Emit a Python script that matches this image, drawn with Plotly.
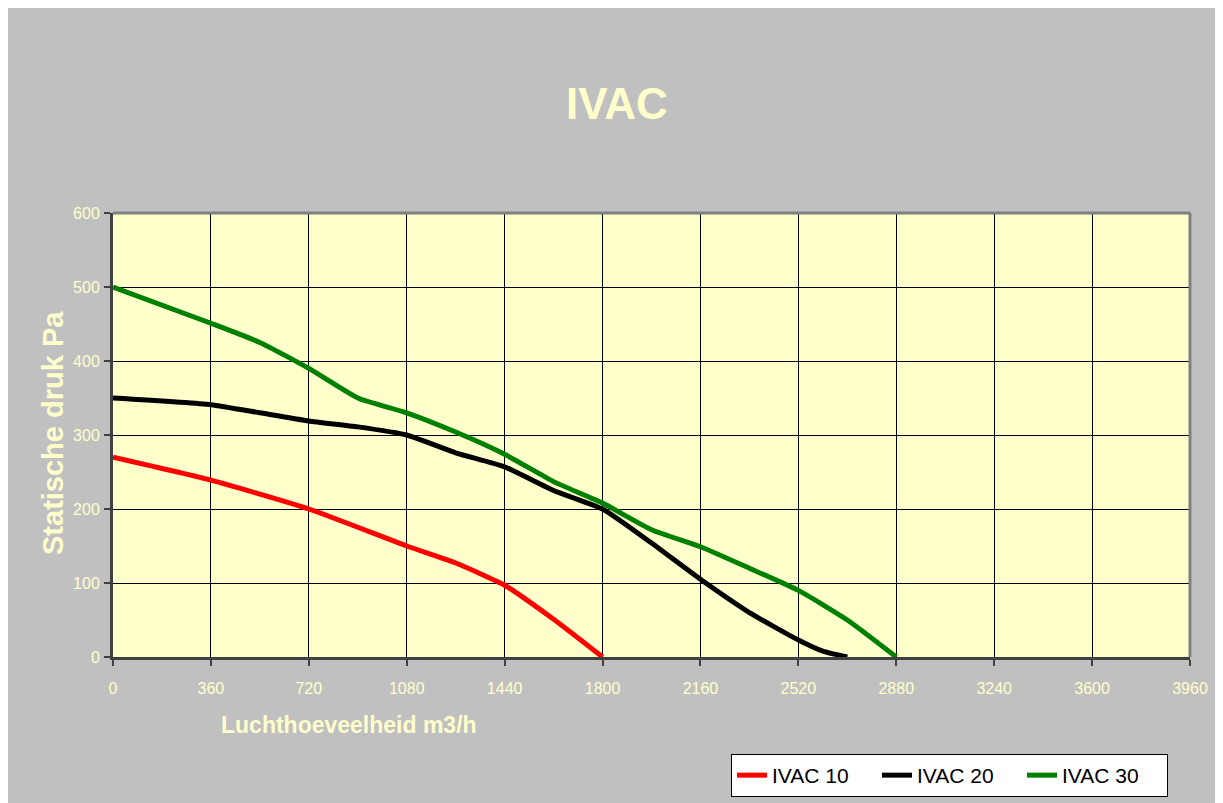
import plotly.graph_objects as go

# ---- data ----
red_x = [0, 360, 720, 1080, 1260, 1440, 1620, 1800]
red_y = [270, 239, 200, 150, 127, 97, 51, 0]

black_x = [0, 360, 540, 720, 900, 1080, 1260, 1440, 1620, 1800, 1980, 2160, 2340, 2520, 2610, 2700]
black_y = [350, 341, 330, 319, 311, 300, 276, 257, 225, 200, 154, 105, 60, 23, 8, 0]

green_x = [0, 360, 540, 720, 900, 1080, 1260, 1440, 1620, 1800, 1980, 2160, 2340, 2520, 2700, 2880]
green_y = [500, 451, 425, 390, 350, 330, 304, 274, 237, 208, 172, 149, 120, 90, 50, 0]

series_names = ["IVAC 10", "IVAC 20", "IVAC 30"]
series_colors = ["#FF0000", "#000000", "#008000"]

x_ticks = [0, 360, 720, 1080, 1440, 1800, 2160, 2520, 2880, 3240, 3600, 3960]
y_ticks = [0, 100, 200, 300, 400, 500, 600]

title_text = "IVAC"
x_title = "Luchthoeveelheid m3/h"
y_title = "Statische druk Pa"

FONT = "Liberation Sans, Arial, sans-serif"
PALE = "#FFFFCC"

fig = go.Figure()
for xs, ys, name, col in zip([red_x, black_x, green_x], [red_y, black_y, green_y],
                             series_names, series_colors):
    fig.add_trace(go.Scatter(x=xs, y=ys, name=name, mode="lines",
                             line=dict(color=col, width=5, shape="spline", smoothing=0.5)))

W, H = 1215, 795
ml, mr, mt, mb = 105, 33, 205, 146
pw = W - ml - mr
ph = H - mt - mb

fig.update_layout(
    width=W, height=H,
    margin=dict(l=ml, r=mr, t=mt, b=mb, pad=0, autoexpand=False),
    paper_bgcolor="#C0C0C0",
    plot_bgcolor=PALE,
    font=dict(family=FONT, color=PALE),
    showlegend=True,
    legend=dict(
        orientation="h",
        xref="container", yref="container",
        x=(723) / W, xanchor="left",
        y=1 - 746 / H, yanchor="top",
        bgcolor="white", bordercolor="black", borderwidth=1,
        font=dict(family=FONT, size=21, color="black"),
        entrywidth=100, entrywidthmode="pixels",
        itemwidth=30, tracegroupgap=0,
    ),
    xaxis=dict(
        range=[0, 3960], tickvals=x_ticks, ticktext=[str(v) for v in x_ticks],
        showgrid=True, gridcolor="black", gridwidth=1,
        showline=True, linecolor="#404040", linewidth=3,
        ticks="outside", ticklen=6, tickcolor="#404040", tickwidth=2,
        tickfont=dict(family=FONT, size=16, color=PALE),
        ticklabelstandoff=9, zeroline=False, fixedrange=True,
    ),
    yaxis=dict(
        range=[0, 600], tickvals=y_ticks,
        showgrid=True, gridcolor="black", gridwidth=1,
        showline=True, linecolor="#404040", linewidth=3,
        ticks="outside", ticklen=6, tickcolor="#404040", tickwidth=2,
        tickfont=dict(family=FONT, size=16, color=PALE),
        ticklabelstandoff=1, zeroline=False, fixedrange=True,
    ),
)

# top/right plot border
fig.add_shape(type="line", xref="paper", yref="paper", x0=0, x1=1, y0=1, y1=1,
              line=dict(color="#808080", width=3))
fig.add_shape(type="line", xref="paper", yref="paper", x0=1, x1=1, y0=0, y1=1,
              line=dict(color="#808080", width=3))

# title
fig.add_annotation(text="<b>" + title_text + "</b>", xref="paper", yref="paper",
                   x=(617 - 8 - ml) / pw, y=1 + (205 - (103 - 8)) / ph,
                   xanchor="center", yanchor="middle", showarrow=False,
                   font=dict(family=FONT, size=44, color=PALE))
# x title
fig.add_annotation(text="<b>" + x_title + "</b>", xref="paper", yref="paper",
                   x=(349 - 8 - ml) / pw, y=-(725 - 8 - (mt + ph)) / ph,
                   xanchor="center", yanchor="middle", showarrow=False,
                   font=dict(family=FONT, size=23, color=PALE))
# y title
fig.add_annotation(text="<b>" + y_title + "</b>", xref="paper", yref="paper",
                   x=-(ml - (53 - 8)) / pw, y=((mt + ph) - (433 - 8)) / ph,
                   xanchor="center", yanchor="middle", showarrow=False, textangle=-90,
                   font=dict(family=FONT, size=29, color=PALE))

fig.write_html("out.html", config={"displayModeBar": False})
